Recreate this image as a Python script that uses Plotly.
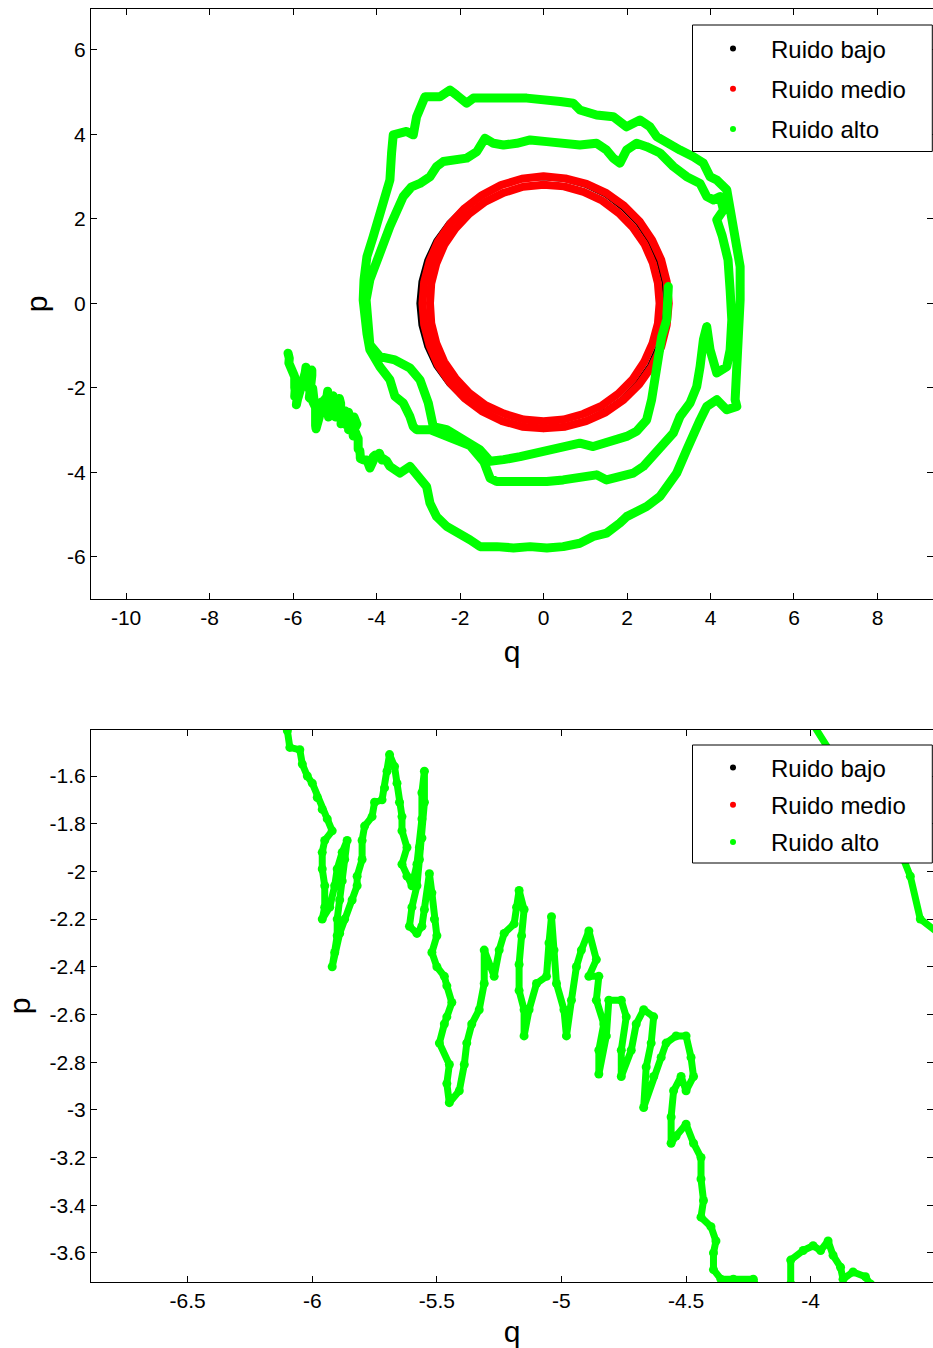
import plotly.graph_objects as go

# ---------------- data ----------------
# "Ruido bajo" (black) : thin closed orbit
black_pts = [(2.90, 0.00), (2.86, 0.50), (2.73, 0.99), (2.52, 1.46), (2.24, 1.88), (1.88, 2.24),
             (1.47, 2.55), (1.01, 2.77), (0.51, 2.91), (0.00, 2.95), (-0.51, 2.92), (-1.01, 2.78),
             (-1.49, 2.57), (-1.92, 2.28), (-2.29, 1.92), (-2.60, 1.50), (-2.82, 1.03), (-2.96, 0.52),
             (-3.01, 0.00), (-2.96, -0.52), (-2.82, -1.03), (-2.60, -1.50), (-2.29, -1.92), (-1.92, -2.28),
             (-1.49, -2.57), (-1.01, -2.78), (-0.51, -2.91), (0.00, -2.95), (0.51, -2.90), (1.00, -2.75),
             (1.46, -2.53), (1.88, -2.24), (2.23, -1.87), (2.52, -1.46), (2.73, -0.99), (2.86, -0.50),
             (2.90, 0.00)]

# "Ruido medio" (red) : two nearly overlapping loops
red_outer_pts = [(3.00, 0.00), (2.95, 0.52), (2.82, 1.03), (2.60, 1.50), (2.31, 1.93), (1.93, 2.31),
                 (1.51, 2.61), (1.03, 2.83), (0.52, 2.96), (0.00, 3.01), (-0.52, 2.95), (-1.02, 2.80),
                 (-1.48, 2.56), (-1.89, 2.25), (-2.24, 1.88), (-2.53, 1.46), (-2.73, 1.00), (-2.86, 0.50),
                 (-2.90, 0.00), (-2.86, -0.50), (-2.73, -1.00), (-2.53, -1.46), (-2.24, -1.88), (-1.89, -2.25),
                 (-1.48, -2.55), (-1.01, -2.78), (-0.51, -2.92), (0.00, -2.96), (0.52, -2.92), (1.02, -2.79),
                 (1.49, -2.58), (1.92, -2.28), (2.29, -1.92), (2.59, -1.50), (2.82, -1.03), (2.95, -0.52),
                 (3.00, 0.00)]
red_inner_pts = [(2.78, 0.00), (2.74, 0.48), (2.62, 0.95), (2.42, 1.40), (2.14, 1.80), (1.80, 2.14),
                 (1.41, 2.43), (0.96, 2.64), (0.49, 2.77), (0.00, 2.81), (-0.49, 2.76), (-0.95, 2.62),
                 (-1.39, 2.41), (-1.78, 2.12), (-2.11, 1.77), (-2.38, 1.38), (-2.57, 0.94), (-2.69, 0.47),
                 (-2.72, 0.00), (-2.69, -0.47), (-2.57, -0.94), (-2.38, -1.38), (-2.11, -1.77), (-1.78, -2.12),
                 (-1.39, -2.41), (-0.95, -2.61), (-0.48, -2.75), (0.00, -2.79), (0.48, -2.75), (0.95, -2.62),
                 (1.40, -2.42), (1.79, -2.14), (2.14, -1.79), (2.41, -1.39), (2.61, -0.95), (2.74, -0.48),
                 (2.78, 0.00)]

# "Ruido alto" (green) : noisy outward spiral, in time order
green_turn1 = [(2.99, 0.40), (2.99, 0.08), (2.95, -0.39), (2.83, -0.79), (2.75, -1.34), (2.67, -1.81),
               (2.59, -2.28), (2.47, -2.76), (2.23, -3.03), (1.99, -3.15), (1.59, -3.27), (1.19, -3.39),
               (0.87, -3.31), (0.40, -3.43), (-0.08, -3.55), (-0.56, -3.63), (-0.96, -3.70), (-1.28, -3.74),
               (-1.52, -3.47), (-1.76, -3.31), (-2.08, -3.15), (-2.32, -2.99), (-2.64, -2.92), (-2.76, -2.36),
               (-2.96, -1.81), (-3.20, -1.53), (-3.56, -1.34), (-3.92, -1.26), (-4.16, -0.98), (-4.23, -0.39),
               (-4.25, 0.08), (-4.16, 0.56), (-4.01, 1.03), (-3.92, 1.19), (-3.68, 1.82), (-3.56, 2.13),
               (-3.36, 2.53), (-3.16, 2.76), (-2.96, 2.84), (-2.72, 3.00), (-2.56, 3.24), (-2.40, 3.36),
               (-2.08, 3.40), (-1.84, 3.44), (-1.60, 3.59), (-1.40, 3.91), (-1.20, 3.79), (-0.96, 3.75),
               (-0.64, 3.79), (-0.32, 3.87), (0.08, 3.83), (0.47, 3.79), (0.87, 3.75), (1.27, 3.79),
               (1.51, 3.63), (1.67, 3.44), (1.83, 3.32), (1.99, 3.63), (2.23, 3.79), (2.47, 3.71),
               (2.79, 3.56), (3.11, 3.24), (3.43, 3.00), (3.75, 2.84), (3.91, 2.53), (4.07, 2.45),
               (4.23, 2.53), (4.31, 2.21), (4.15, 1.98), (4.28, 1.60), (4.42, 1.03), (4.47, 0.32),
               (4.51, -0.39), (4.47, -1.10), (4.39, -1.50), (4.15, -1.65), (3.99, -1.10), (3.91, -0.55),
               (3.83, -0.86), (3.75, -1.50), (3.67, -1.97), (3.51, -2.36), (3.27, -2.68), (3.11, -3.07),
               (2.87, -3.31), (2.63, -3.55), (2.39, -3.86), (2.15, -4.02), (1.83, -4.10), (1.51, -4.18),
               (1.27, -4.06), (0.87, -4.14), (0.47, -4.18), (0.08, -4.22), (-0.32, -4.22), (-0.72, -4.26),
               (-1.12, -4.22), (-1.28, -4.14), (-1.36, -3.94), (-1.43, -3.75)]
green_turn2 = [(-1.76, -3.37), (-2.24, -3.18), (-2.72, -2.99), (-3.04, -2.99), (-3.12, -2.92), (-3.20, -2.68),
               (-3.36, -2.36), (-3.56, -2.20), (-3.60, -2.02), (-3.68, -1.81), (-3.92, -1.50), (-4.16, -1.10),
               (-4.23, -0.71), (-4.32, 0.08), (-4.30, 0.56), (-4.23, 1.11), (-4.08, 1.58), (-3.84, 2.29),
               (-3.68, 2.92), (-3.64, 3.56), (-3.60, 3.99), (-3.28, 4.07), (-3.12, 3.99), (-3.04, 4.42),
               (-2.92, 4.74), (-2.84, 4.89), (-2.48, 4.89), (-2.24, 5.05), (-2.08, 4.93), (-1.84, 4.74),
               (-1.68, 4.86), (-1.28, 4.86), (-0.88, 4.86), (-0.40, 4.86), (0.40, 4.78), (0.71, 4.74),
               (0.87, 4.58), (1.27, 4.46), (1.67, 4.42), (1.99, 4.18), (2.31, 4.34), (2.55, 4.18),
               (2.71, 3.95), (2.95, 3.79), (3.27, 3.63), (3.59, 3.47), (3.83, 3.32), (3.99, 3.00),
               (4.15, 2.92), (4.39, 2.69), (4.47, 2.21), (4.55, 1.66), (4.63, 1.27), (4.71, 0.87),
               (4.71, 0.08), (4.66, -0.71), (4.61, -1.50), (4.59, -2.28), (4.63, -2.44), (4.39, -2.52),
               (4.15, -2.28), (3.91, -2.44), (3.75, -2.76), (3.59, -3.07), (3.43, -3.47), (3.19, -4.02),
               (3.03, -4.26), (2.79, -4.57), (2.47, -4.81), (2.15, -4.97), (1.99, -5.05), (1.83, -5.20),
               (1.51, -5.44), (1.19, -5.52), (0.87, -5.68), (0.47, -5.76), (0.08, -5.79), (-0.32, -5.76),
               (-0.72, -5.79), (-1.12, -5.76), (-1.52, -5.76), (-1.76, -5.60), (-2.00, -5.44), (-2.32, -5.28),
               (-2.56, -5.05), (-2.72, -4.73), (-2.80, -4.34), (-3.04, -4.02), (-3.20, -3.86), (-3.44, -4.02),
               (-3.68, -3.86)]
green_tail = [(-3.76, -3.73), (-3.78, -3.70), (-3.83, -3.68), (-3.87, -3.71), (-3.88, -3.66), (-3.91, -3.61),
              (-3.93, -3.55), (-3.96, -3.59), (-3.99, -3.57), (-4.03, -3.59), (-4.08, -3.63), (-4.08, -3.73),
              (-4.16, -3.90), (-4.23, -3.71), (-4.31, -3.71), (-4.36, -3.71), (-4.39, -3.67), (-4.39, -3.60),
              (-4.38, -3.55), (-4.40, -3.49), (-4.44, -3.45), (-4.43, -3.38), (-4.44, -3.29), (-4.44, -3.20),
              (-4.47, -3.14), (-4.50, -3.06), (-4.54, -3.11), (-4.56, -3.14), (-4.56, -3.03), (-4.55, -2.92),
              (-4.52, -2.86), (-4.50, -2.92), (-4.47, -2.86), (-4.48, -2.78), (-4.50, -2.69), (-4.54, -2.69),
              (-4.58, -2.72), (-4.60, -2.78), (-4.63, -2.86), (-4.67, -2.99), (-4.66, -2.82), (-4.64, -2.72),
              (-4.63, -2.61), (-4.67, -2.58), (-4.70, -2.64), (-4.72, -2.75), (-4.76, -2.86), (-4.76, -2.75),
              (-4.74, -2.61), (-4.76, -2.54), (-4.81, -2.54), (-4.82, -2.69), (-4.85, -2.85), (-4.85, -2.75),
              (-4.83, -2.64), (-4.86, -2.54), (-4.85, -2.44), (-4.89, -2.44), (-4.86, -2.37), (-4.89, -2.25),
              (-4.92, -2.33), (-4.94, -2.40), (-4.96, -2.54), (-4.98, -2.69), (-4.99, -2.58), (-5.02, -2.47),
              (-5.03, -2.33), (-5.04, -2.19), (-5.05, -2.30), (-5.06, -2.44), (-5.10, -2.47), (-5.13, -2.58),
              (-5.15, -2.69), (-5.15, -2.58), (-5.17, -2.50), (-5.17, -2.39), (-5.16, -2.27), (-5.15, -2.16),
              (-5.17, -2.08), (-5.18, -2.15), (-5.19, -2.22), (-5.23, -2.26), (-5.25, -2.33), (-5.27, -2.44),
              (-5.31, -2.33), (-5.31, -2.47), (-5.33, -2.58), (-5.36, -2.64), (-5.38, -2.72), (-5.39, -2.81),
              (-5.41, -2.92), (-5.45, -2.97), (-5.46, -2.89), (-5.45, -2.81), (-5.49, -2.72), (-5.47, -2.64),
              (-5.46, -2.61), (-5.44, -2.55), (-5.46, -2.48), (-5.47, -2.44), (-5.50, -2.40), (-5.52, -2.34),
              (-5.50, -2.27), (-5.51, -2.20), (-5.52, -2.09), (-5.53, -2.01), (-5.55, -2.16), (-5.56, -2.23),
              (-5.58, -2.26), (-5.61, -2.23), (-5.60, -2.15), (-5.58, -2.06), (-5.57, -1.95), (-5.56, -1.86),
              (-5.55, -1.71), (-5.55, -1.58), (-5.56, -1.67), (-5.56, -1.78), (-5.57, -1.90), (-5.58, -1.97),
              (-5.60, -2.06), (-5.62, -2.02), (-5.64, -1.97), (-5.62, -1.90), (-5.64, -1.83), (-5.64, -1.77),
              (-5.65, -1.71), (-5.66, -1.63), (-5.67, -1.56), (-5.69, -1.51), (-5.70, -1.58), (-5.71, -1.65),
              (-5.72, -1.70), (-5.75, -1.71), (-5.76, -1.77), (-5.79, -1.81), (-5.80, -1.87), (-5.80, -1.95),
              (-5.82, -2.02), (-5.82, -2.06), (-5.84, -2.12), (-5.87, -2.20), (-5.89, -2.26), (-5.92, -2.40),
              (-5.91, -2.34), (-5.90, -2.27), (-5.90, -2.20), (-5.89, -2.12), (-5.88, -2.04), (-5.87, -1.95),
              (-5.86, -1.87), (-5.88, -1.92), (-5.90, -1.99), (-5.91, -2.06), (-5.93, -2.15), (-5.96, -2.20),
              (-5.95, -2.15), (-5.95, -2.06), (-5.96, -1.99), (-5.96, -1.92), (-5.95, -1.87), (-5.92, -1.83),
              (-5.94, -1.78), (-5.96, -1.74), (-5.98, -1.69), (-6.00, -1.63), (-6.02, -1.60), (-6.04, -1.55),
              (-6.05, -1.49), (-6.09, -1.48), (-6.10, -1.41), (-6.09, -1.30), (-6.12, -1.18)]

series_names = ["Ruido bajo", "Ruido medio", "Ruido alto"]

# tick labels
x1_vals = [-10, -8, -6, -4, -2, 0, 2, 4, 6, 8]
x1_text = ["-10", "-8", "-6", "-4", "-2", "0", "2", "4", "6", "8"]
y1_vals = [-6, -4, -2, 0, 2, 4, 6]
y1_text = ["-6", "-4", "-2", "0", "2", "4", "6"]
x2_vals = [-6.5, -6, -5.5, -5, -4.5, -4]
x2_text = ["-6.5", "-6", "-5.5", "-5", "-4.5", "-4"]
y2_vals = [-3.6, -3.4, -3.2, -3.0, -2.8, -2.6, -2.4, -2.2, -2.0, -1.8, -1.6]
y2_text = ["-3.6", "-3.4", "-3.2", "-3", "-2.8", "-2.6", "-2.4", "-2.2", "-2", "-1.8", "-1.6"]

# ---------------- build figure ----------------
FONT = "Liberation Sans, Arial, Helvetica, sans-serif"
W, H = 933, 1348
ML, MR, MT, MB = 91, 0, 9, 66
PW, PH = W - ML - MR, H - MT - MB


def px_x(px):
    return (px - ML) / PW


def px_y(py):
    return 1 - (py - MT) / PH


def qs(pts):
    return [a for a, b in pts]


def ps(pts):
    return [b for a, b in pts]


green_all = green_turn1 + green_turn2 + green_tail

fig = go.Figure()

for xa, ya, gmode, gline, gmark in [("x", "y", "lines", 9, 9), ("x2", "y2", "lines+markers", 7, 9)]:
    fig.add_trace(go.Scatter(x=qs(black_pts), y=ps(black_pts), mode="lines",
                             line=dict(color="black", width=3), xaxis=xa, yaxis=ya,
                             showlegend=False, hoverinfo="skip"))
    for pts in (red_outer_pts, red_inner_pts):
        fig.add_trace(go.Scatter(x=qs(pts), y=ps(pts), mode="lines",
                                 line=dict(color="#ff0000", width=8), xaxis=xa, yaxis=ya,
                                 showlegend=False, hoverinfo="skip"))
    fig.add_trace(go.Scatter(x=qs(green_all), y=ps(green_all), mode=gmode,
                             line=dict(color="#00ff00", width=gline),
                             marker=dict(color="#00ff00", size=gmark), xaxis=xa, yaxis=ya,
                             showlegend=False, hoverinfo="skip"))

# legend entries (dots, as in the original)
colors = ["black", "#ff0000", "#00ff00"]
for leg, xa, ya in [("legend", "x", "y"), ("legend2", "x2", "y2")]:
    for i, (nm, c) in enumerate(zip(series_names, colors)):
        fig.add_trace(go.Scatter(x=[None], y=[None], mode="markers", name=nm,
                                 marker=dict(color=c, size=6), xaxis=xa, yaxis=ya,
                                 legend=leg, legendgroup=leg + str(i), showlegend=True))

axis_common = dict(showgrid=False, zeroline=False, showline=True, linecolor="black", linewidth=1,
                   mirror="ticks", ticks="inside", ticklen=6, tickcolor="black", tickwidth=1,
                   tickfont=dict(family=FONT, size=21, color="black"), tickmode="array")

title_font = dict(family=FONT, size=30, color="black")
legend_font = dict(family=FONT, size=24, color="black")

fig.update_layout(
    width=W, height=H, margin=dict(l=ML, r=MR, t=MT, b=MB, pad=0),
    paper_bgcolor="white", plot_bgcolor="white",
    xaxis=dict(domain=[0, 1], range=[-10.84, 9.33], anchor="y", tickvals=x1_vals, ticktext=x1_text,
               title=dict(text="q", font=title_font, standoff=12), **axis_common),
    yaxis=dict(domain=[px_y(599), 1], range=[-7.0, 6.97], anchor="x", tickvals=y1_vals, ticktext=y1_text,
               title=dict(text="p", font=title_font, standoff=10), **axis_common),
    xaxis2=dict(domain=[0, 1], range=[-6.888, -3.509], anchor="y2", tickvals=x2_vals, ticktext=x2_text,
                title=dict(text="q", font=title_font, standoff=12), **axis_common),
    yaxis2=dict(domain=[0, px_y(730)], range=[-3.722, -1.407], anchor="x2", tickvals=y2_vals,
                ticktext=y2_text, title=dict(text="p", font=title_font, standoff=10), **axis_common),
    legend=dict(x=px_x(695), y=px_y(26.5), xanchor="left", yanchor="top", bgcolor="rgba(0,0,0,0)",
                borderwidth=0, font=legend_font, itemwidth=66,
                tracegroupgap=6, traceorder="grouped"),
    legend2=dict(x=px_x(695), y=px_y(745.5), xanchor="left", yanchor="top", bgcolor="rgba(0,0,0,0)",
                 borderwidth=0, font=legend_font, itemwidth=66,
                 tracegroupgap=3, traceorder="grouped"),
    shapes=[
        dict(type="rect", xref="paper", yref="paper", x0=px_x(692.5), x1=px_x(932.3),
             y0=px_y(151.5), y1=px_y(25), fillcolor="white", line=dict(color="black", width=1),
             layer="above"),
        dict(type="rect", xref="paper", yref="paper", x0=px_x(692.5), x1=px_x(932.3),
             y0=px_y(863), y1=px_y(745), fillcolor="white", line=dict(color="black", width=1),
             layer="above"),
    ],
)

post = ("var s=document.createElement('style');"
        "s.innerHTML='.js-line{stroke-linejoin:round;stroke-linecap:round}';"
        "document.head.appendChild(s);")
fig.write_html("out.html", post_script=post)
